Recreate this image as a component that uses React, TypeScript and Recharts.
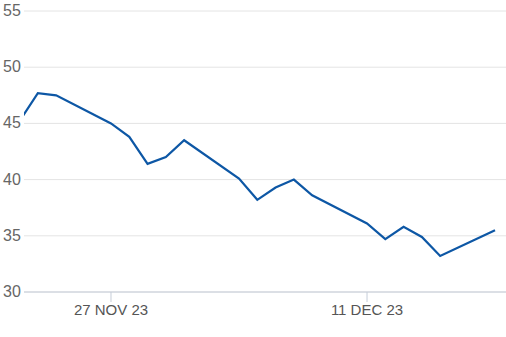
import React from "react";
import { LineChart, Line, XAxis, YAxis, CartesianGrid } from "recharts";

// day number counted from 1 Nov 2023 (trading days only)
const days = [22, 23, 24, 27, 28, 29, 30, 31, 34, 35, 36, 37, 38, 41, 42, 43, 44, 45, 48];
const values = [45.2, 47.7, 47.5, 45.0, 43.8, 41.4, 42.0, 43.5, 40.1, 38.2, 39.3, 40.0, 38.6, 36.1, 34.7, 35.8, 34.9, 33.2, 35.5];

const xTicks = [27, 41];
const xTickLabels = ["27 NOV 23", "11 DEC 23"];
const yTicks = [30, 35, 40, 45, 50, 55];

const data = days.map((d, i) => ({ day: d, value: values[i] }));

const YTick = (props: any) => {
  const { y, payload } = props;
  return (
    <text x={3} y={y} dy={5} fill="#666" fontSize={16} fontFamily="Liberation Sans, Arial, sans-serif" textAnchor="start">
      {payload.value}
    </text>
  );
};

const App = () => {
  return (
    <div style={{ position: "fixed", left: 0, top: 0, background: "#fff" }}>
      <LineChart width={506} height={337} data={data} margin={{ top: 11, right: 0, left: 0, bottom: 15 }}>
        <CartesianGrid vertical={false} stroke="#e4e4e4" />
        <XAxis
          dataKey="day"
          type="number"
          domain={[22.243, 48.6]}
          allowDataOverflow
          ticks={xTicks}
          tickFormatter={(v: number) => xTickLabels[xTicks.indexOf(v)]}
          height={30}
          tickSize={10}
          tickMargin={2}
          stroke="#c6cdd9"
          tick={{ fill: "#555", fontSize: 15, fontFamily: "Liberation Sans, Arial, sans-serif" }}
        />
        <YAxis
          domain={[30, 55]}
          ticks={yTicks}
          width={24}
          axisLine={false}
          tickLine={false}
          tick={<YTick />}
        />
        <Line type="linear" dataKey="value" stroke="#0d57a5" strokeWidth={2.2} dot={false} isAnimationActive={false} />
      </LineChart>
    </div>
  );
};

export default App;
